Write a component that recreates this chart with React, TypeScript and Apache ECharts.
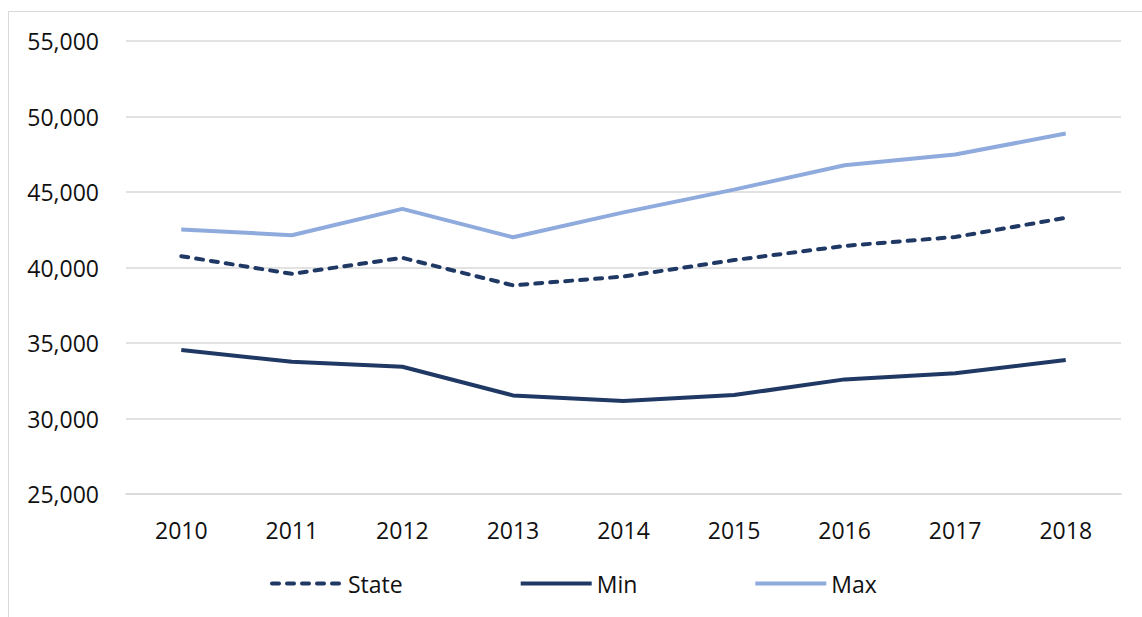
import React, { useEffect, useRef } from "react";
import * as echarts from "echarts";

const years = ["2010", "2011", "2012", "2013", "2014", "2015", "2016", "2017", "2018"];
const stateValues = [40750, 39580, 40640, 38820, 39400, 40490, 41430, 42020, 43290];
const minValues = [34530, 33760, 33430, 31530, 31160, 31550, 32590, 32990, 33870];
const maxValues = [42520, 42140, 43880, 42000, 43650, 45160, 46770, 47480, 48870];

const NAVY = "#1f3864";
const LIGHT = "#8faadc";
const FONT = "Open Sans";
const TEXT = "#111111";

export default function App() {
  const ref = useRef<HTMLDivElement>(null);
  useEffect(() => {
    if (!ref.current) return;
    const chart = echarts.init(ref.current, undefined, { renderer: "svg" });
    chart.setOption({
      animation: false,
      backgroundColor: "#ffffff",
      textStyle: { fontFamily: FONT },
      graphic: [
        {
          type: "rect",
          shape: { x: 8.5, y: 11.5, width: 1200, height: 700 },
          style: { fill: "none", stroke: "#d9d9d9", lineWidth: 1 },
          silent: true,
          z: -10,
        },
      ],
      grid: { left: 126, right: 21, top: 41, bottom: 123, containLabel: false },
      legend: {
        left: 270,
        top: 572,
        padding: 0,
        itemWidth: 71,
        itemHeight: 14,
        itemGap: 116,
        itemStyle: { opacity: 0 },
        lineStyle: { width: 4 },
        textStyle: { fontFamily: FONT, fontSize: 23, color: TEXT, padding: [0, 0, 0, 0] },
        data: ["State", "Min", "Max"],
      },
      xAxis: {
        type: "category",
        data: years,
        boundaryGap: true,
        axisLine: { show: true, lineStyle: { color: "#d9d9d9", width: 1.5 } },
        axisTick: { show: false },
        axisLabel: { fontFamily: FONT, fontSize: 23, color: TEXT, margin: 24 },
        splitLine: { show: false },
      },
      yAxis: {
        type: "value",
        min: 25000,
        max: 55000,
        interval: 5000,
        axisLine: { show: false },
        axisTick: { show: false },
        axisLabel: {
          fontFamily: FONT,
          fontSize: 23,
          color: TEXT,
          margin: 27,
          formatter: (v: number) => v.toLocaleString("en-US"),
        },
        splitLine: { show: true, lineStyle: { color: "#d9d9d9", width: 1.5 } },
      },
      series: [
        {
          name: "State",
          type: "line",
          data: stateValues,
          symbol: "none",
          color: NAVY,
          lineStyle: { color: NAVY, width: 4, type: [7, 8], cap: "round" },
          z: 3,
        },
        {
          name: "Min",
          type: "line",
          data: minValues,
          symbol: "none",
          color: NAVY,
          lineStyle: { color: NAVY, width: 4 },
          z: 3,
        },
        {
          name: "Max",
          type: "line",
          data: maxValues,
          symbol: "none",
          color: LIGHT,
          lineStyle: { color: LIGHT, width: 4 },
          z: 3,
        },
      ],
    });
    return () => chart.dispose();
  }, []);
  return (
    <div
      ref={ref}
      style={{ position: "absolute", left: 0, top: 0, width: 1142, height: 617, overflow: "hidden" }}
    />
  );
}
